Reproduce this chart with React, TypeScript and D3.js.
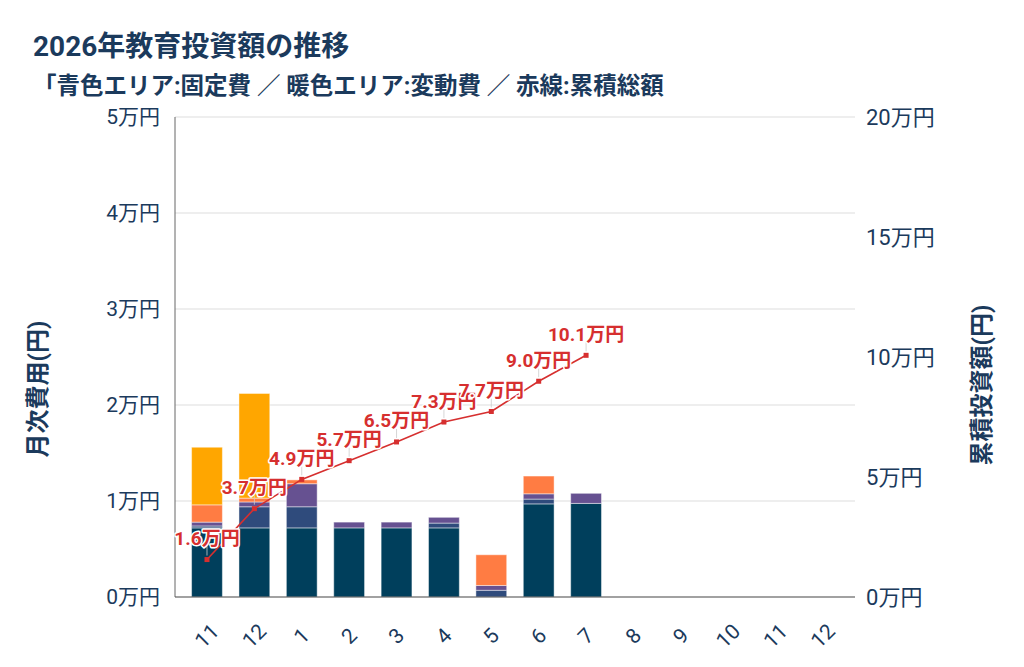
import React from 'react';
import * as d3 from 'd3';

// ---- data ----
const tickLabels = ['11', '12', '1', '2', '3', '4', '5', '6', '7', '8', '9', '10', '11', '12'];
// monthly costs in yen (Nov 2025 .. Jul 2026)
const fixedA = [7200, 7200, 7200, 7200, 7200, 7200, 0, 9700, 9750];
const fixedB = [200, 2200, 2200, 0, 0, 500, 700, 500, 0];
const fixedC = [400, 500, 2400, 600, 600, 600, 500, 550, 1050];
const variableA = [1800, 400, 400, 0, 0, 0, 3200, 1850, 0];
const variableB = [6000, 10900, 0, 0, 0, 0, 0, 0, 0];
const seriesKeys = ['fixedA', 'fixedB', 'fixedC', 'variableA', 'variableB'];
const seriesColors = ['#003f5c', '#2f4b7c', '#665191', '#ff7c43', '#ffa600'];
const leftTicks = [0, 10000, 20000, 30000, 40000, 50000];
const rightTicks = [0, 50000, 100000, 150000, 200000];

const W = 1024;
const H = 667;
const M = { left: 175, right: 855, top: 117, bottom: 597 };
const TEXT = '#1b3a5c';
const RED = '#d62f2f';
const FONT = "Roboto, 'Noto Sans CJK JP', sans-serif";

export default function App() {
  const rows = fixedA.map((_, i) => ({
    idx: i,
    fixedA: fixedA[i],
    fixedB: fixedB[i],
    fixedC: fixedC[i],
    variableA: variableA[i],
    variableB: variableB[i],
  }));
  const stack = d3.stack<any>().keys(seriesKeys)(rows);
  const totals = rows.map((r) => seriesKeys.reduce((s, k) => s + (r as any)[k], 0));
  const cumulative: number[] = Array.from(d3.cumsum(totals));

  const x = d3
    .scaleBand<number>()
    .domain(tickLabels.map((_, i) => i))
    .range([M.left, M.right])
    .padding(0.35);
  const yL = d3.scaleLinear().domain([0, 50000]).range([M.bottom, M.top]);
  const yR = d3.scaleLinear().domain([0, 200000]).range([M.bottom, M.top]);
  const cx = (i: number) => (x(i) as number) + x.bandwidth() / 2;

  const line = d3
    .line<number>()
    .x((_, i) => cx(i))
    .y((d) => yR(d));

  return (
    <svg
      width={W}
      height={H}
      style={{ position: 'absolute', left: 0, top: 0, background: '#fff' }}
      fontFamily={FONT}
    >
      <rect x={0} y={0} width={W} height={H} fill="#fff" />
      {/* titles */}
      <text x={33} y={56} fontSize={28} fontWeight={700} fill={TEXT}>
        2026年教育投資額の推移
      </text>
      <text x={33} y={94} fontSize={23.5} fontWeight={700} fill={TEXT}>
        「青色エリア:固定費 ／ 暖色エリア:変動費 ／ 赤線:累積総額
      </text>

      {/* gridlines */}
      {leftTicks.map((t) => (
        <line key={'g' + t} x1={M.left} x2={M.right} y1={yL(t)} y2={yL(t)} stroke="#dddddd" strokeWidth={1} />
      ))}

      {/* left ticks */}
      {leftTicks.map((t) => (
        <text
          key={'l' + t}
          x={160}
          y={yL(t)}
          textAnchor="end"
          dominantBaseline="central"
          fontSize={21}
          fill={TEXT}
        >
          {t / 10000}万円
        </text>
      ))}
      {/* right ticks */}
      {rightTicks.map((t) => (
        <text key={'r' + t} x={866} y={yR(t)} dominantBaseline="central" fontSize={22} fill={TEXT}>
          {t / 10000}万円
        </text>
      ))}

      {/* axis titles */}
      <text
        transform={`translate(38,389) rotate(-90)`}
        textAnchor="middle"
        dominantBaseline="central"
        fontSize={24}
        fontWeight={700}
        fill={TEXT}
      >
        月次費用(円)
      </text>
      <text
        transform={`translate(982,385) rotate(-90)`}
        textAnchor="middle"
        dominantBaseline="central"
        fontSize={24}
        fontWeight={700}
        fill={TEXT}
      >
        累積投資額(円)
      </text>

      {/* bars */}
      {stack.map((s, si) => (
        <g key={seriesKeys[si]} fill={seriesColors[si]}>
          {s.map((d, i) =>
            d[1] - d[0] > 0 ? (
              <rect
                key={i}
                x={x(i)}
                width={x.bandwidth()}
                y={yL(d[1])}
                height={yL(d[0]) - yL(d[1])}
                stroke="#ffffff"
                strokeOpacity={0.45}
                strokeWidth={1}
              />
            ) : null
          )}
        </g>
      ))}

      {/* axes lines */}
      <line x1={M.left} x2={M.left} y1={M.top} y2={M.bottom} stroke="#666" strokeWidth={1} />
      <line x1={M.left} x2={M.right} y1={M.bottom} y2={M.bottom} stroke="#555" strokeWidth={1.2} />

      {/* x tick labels */}
      {tickLabels.map((t, i) => (
        <text
          key={'x' + i}
          transform={`translate(${cx(i)},636) rotate(-45)`}
          textAnchor="middle"
          dominantBaseline="central"
          fontSize={21}
          fill={TEXT}
        >
          {t}
        </text>
      ))}

      {/* cumulative line */}
      {cumulative.map((c, i) => (
        <line key={'ld' + i} x1={cx(i)} x2={cx(i)} y1={yR(c) - 13} y2={yR(c) - 4} stroke="#cccccc" strokeWidth={0.8} />
      ))}
      <path d={line(cumulative) || ''} fill="none" stroke={RED} strokeWidth={1.6} />
      {cumulative.map((c, i) => (
        <rect key={'m' + i} x={cx(i) - 2.5} y={yR(c) - 2.5} width={5} height={5} fill={RED} />
      ))}
      {cumulative.map((c, i) => (
        <text
          key={'t' + i}
          x={cx(i)}
          y={yR(c) - 21}
          textAnchor="middle"
          dominantBaseline="central"
          fontSize={19}
          fontWeight={700}
          fill={RED}
          stroke="#ffffff"
          strokeWidth={3}
          paintOrder="stroke"
          strokeLinejoin="round"
        >
          {(c / 10000).toFixed(1)}万円
        </text>
      ))}
    </svg>
  );
}
